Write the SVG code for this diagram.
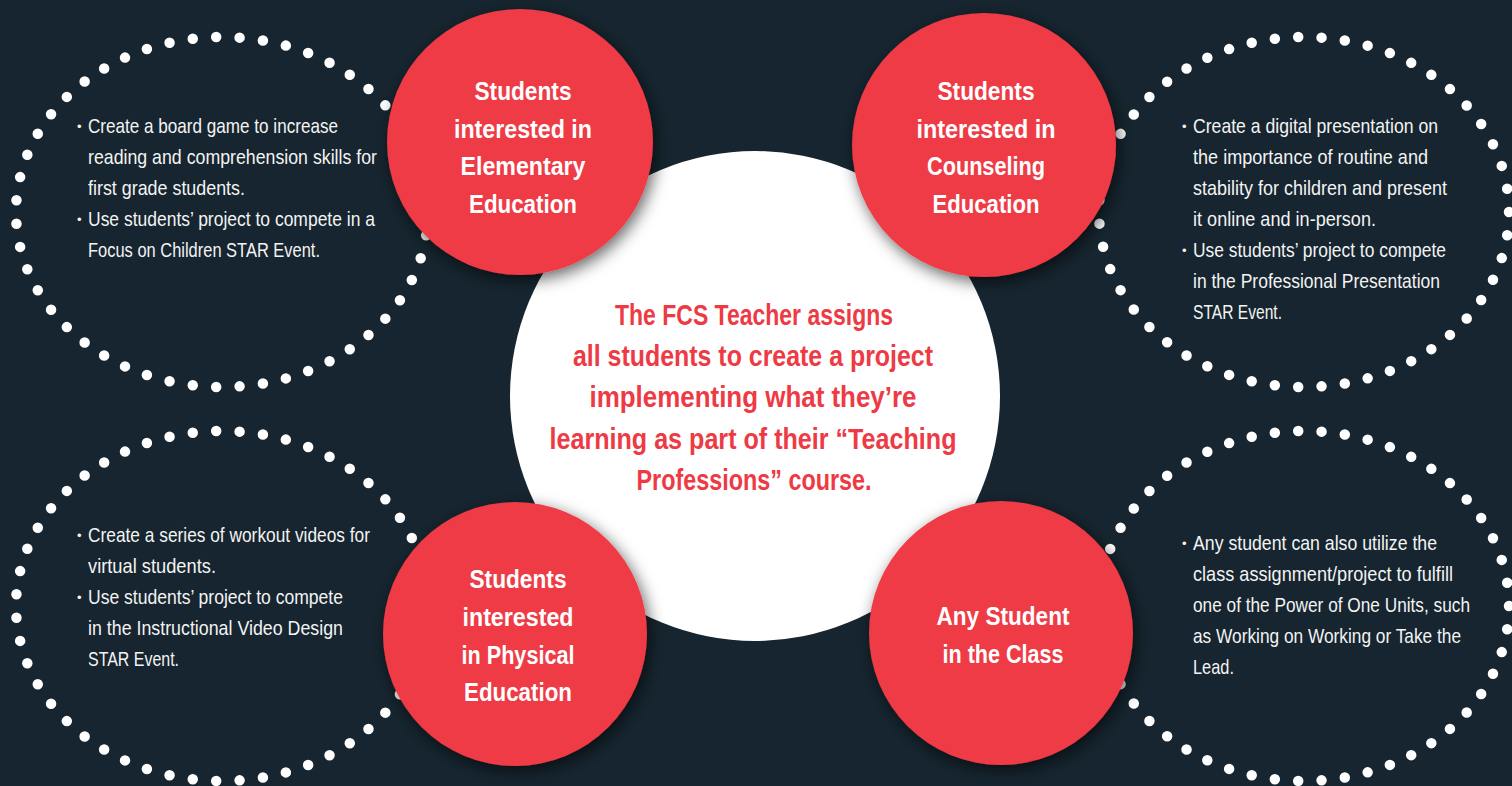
<svg xmlns="http://www.w3.org/2000/svg" width="1512" height="786" viewBox="0 0 1512 786">
<defs>
<style>
.bg{fill:#16252f}
.dots{fill:none;stroke:#ffffff;stroke-width:10.5;stroke-linecap:round;stroke-dasharray:0 1}
.red{fill:#ee3a44}
.hub{fill:#ffffff}
.body{font-family:"Liberation Sans Narrow","Liberation Sans",Arial,sans-serif;font-size:21px;fill:#f3f3f3}
.bul{font-family:"Liberation Sans",Arial,sans-serif;font-size:13px;fill:#f3f3f3}
.lbl{font-family:"Liberation Sans Narrow","Liberation Sans",Arial,sans-serif;font-size:25px;font-weight:bold;fill:#ffffff;text-anchor:middle}
.ctr{font-family:"Liberation Sans Narrow","Liberation Sans",Arial,sans-serif;font-size:30px;font-weight:bold;fill:#ee3a44;text-anchor:middle}
</style>
<filter id="sh" x="-30%" y="-30%" width="160%" height="160%">
<feGaussianBlur in="SourceAlpha" stdDeviation="8"/>
<feOffset dx="3" dy="5" result="b"/>
<feFlood flood-color="#000000" flood-opacity="0.6"/>
<feComposite in2="b" operator="in"/>
<feMerge><feMergeNode/><feMergeNode in="SourceGraphic"/></feMerge>
</filter>
</defs>
<rect class="bg" x="0" y="0" width="1512" height="786"/>

<g id="connectors">
<ellipse class="dots" cx="222" cy="212" rx="206" ry="175" pathLength="51"/>
<ellipse class="dots" cx="1304" cy="212" rx="205" ry="175" pathLength="51"/>
<ellipse class="dots" cx="222" cy="606" rx="206" ry="175" pathLength="51"/>
<ellipse class="dots" cx="1304" cy="606" rx="205" ry="175" pathLength="51"/>
</g>

<g id="hub">
<circle class="hub" cx="755" cy="396" r="245"/>
<text class="ctr" x="754" y="325" textLength="278" lengthAdjust="spacingAndGlyphs">The FCS Teacher assigns</text>
<text class="ctr" x="753" y="366" textLength="360" lengthAdjust="spacingAndGlyphs">all students to create a project</text>
<text class="ctr" x="753" y="407" textLength="327" lengthAdjust="spacingAndGlyphs">implementing what they’re</text>
<text class="ctr" x="753" y="449" textLength="407" lengthAdjust="spacingAndGlyphs">learning as part of their “Teaching</text>
<text class="ctr" x="754" y="490" textLength="235" lengthAdjust="spacingAndGlyphs">Professions” course.</text>
</g>

<g id="node-elementary">
<circle class="red" cx="520" cy="142" r="133" filter="url(#sh)"/>
<text class="lbl" x="523" y="100" textLength="97" lengthAdjust="spacingAndGlyphs">Students</text>
<text class="lbl" x="523" y="138" textLength="138" lengthAdjust="spacingAndGlyphs">interested in</text>
<text class="lbl" x="523" y="175" textLength="125" lengthAdjust="spacingAndGlyphs">Elementary</text>
<text class="lbl" x="523" y="213" textLength="108" lengthAdjust="spacingAndGlyphs">Education</text>
</g>

<g id="node-counseling">
<circle class="red" cx="984" cy="145" r="132" filter="url(#sh)"/>
<text class="lbl" x="986" y="100" textLength="97" lengthAdjust="spacingAndGlyphs">Students</text>
<text class="lbl" x="986" y="138" textLength="139" lengthAdjust="spacingAndGlyphs">interested in</text>
<text class="lbl" x="986" y="175" textLength="118" lengthAdjust="spacingAndGlyphs">Counseling</text>
<text class="lbl" x="986" y="213" textLength="107" lengthAdjust="spacingAndGlyphs">Education</text>
</g>

<g id="node-physical">
<circle class="red" cx="515" cy="634" r="132" filter="url(#sh)"/>
<text class="lbl" x="518" y="588" textLength="97" lengthAdjust="spacingAndGlyphs">Students</text>
<text class="lbl" x="518" y="626" textLength="111" lengthAdjust="spacingAndGlyphs">interested</text>
<text class="lbl" x="518" y="664" textLength="113" lengthAdjust="spacingAndGlyphs">in Physical</text>
<text class="lbl" x="518" y="701" textLength="108" lengthAdjust="spacingAndGlyphs">Education</text>
</g>

<g id="node-any">
<circle class="red" cx="1001" cy="633" r="132" filter="url(#sh)"/>
<text class="lbl" x="1003" y="625" textLength="133" lengthAdjust="spacingAndGlyphs">Any Student</text>
<text class="lbl" x="1003" y="663" textLength="121" lengthAdjust="spacingAndGlyphs">in the Class</text>
</g>

<g id="text-elementary">
<text class="bul" x="77" y="131">•</text>
<text class="body" x="88" y="133" textLength="250" lengthAdjust="spacingAndGlyphs">Create a board game to increase</text>
<text class="body" x="88" y="164" textLength="289" lengthAdjust="spacingAndGlyphs">reading and comprehension skills for</text>
<text class="body" x="88" y="195" textLength="157" lengthAdjust="spacingAndGlyphs">first grade students.</text>
<text class="bul" x="77" y="224">•</text>
<text class="body" x="88" y="226" textLength="287" lengthAdjust="spacingAndGlyphs">Use students’ project to compete in a</text>
<text class="body" x="88" y="257" textLength="232" lengthAdjust="spacingAndGlyphs">Focus on Children STAR Event.</text>
</g>

<g id="text-counseling">
<text class="bul" x="1182" y="131">•</text>
<text class="body" x="1193" y="133" textLength="245" lengthAdjust="spacingAndGlyphs">Create a digital presentation on</text>
<text class="body" x="1193" y="164" textLength="235" lengthAdjust="spacingAndGlyphs">the importance of routine and</text>
<text class="body" x="1193" y="195" textLength="254" lengthAdjust="spacingAndGlyphs">stability for children and present</text>
<text class="body" x="1193" y="226" textLength="183" lengthAdjust="spacingAndGlyphs">it online and in-person.</text>
<text class="bul" x="1182" y="255">•</text>
<text class="body" x="1193" y="257" textLength="253" lengthAdjust="spacingAndGlyphs">Use students’ project to compete</text>
<text class="body" x="1193" y="288" textLength="247" lengthAdjust="spacingAndGlyphs">in the Professional Presentation</text>
<text class="body" x="1193" y="319" textLength="89" lengthAdjust="spacingAndGlyphs">STAR Event.</text>
</g>

<g id="text-physical">
<text class="bul" x="77" y="540">•</text>
<text class="body" x="88" y="542" textLength="282" lengthAdjust="spacingAndGlyphs">Create a series of workout videos for</text>
<text class="body" x="88" y="573" textLength="128" lengthAdjust="spacingAndGlyphs">virtual students.</text>
<text class="bul" x="77" y="602">•</text>
<text class="body" x="88" y="604" textLength="255" lengthAdjust="spacingAndGlyphs">Use students’ project to compete</text>
<text class="body" x="88" y="635" textLength="255" lengthAdjust="spacingAndGlyphs">in the Instructional Video Design</text>
<text class="body" x="88" y="666" textLength="91" lengthAdjust="spacingAndGlyphs">STAR Event.</text>
</g>

<g id="text-any">
<text class="bul" x="1182" y="548">•</text>
<text class="body" x="1193" y="550" textLength="244" lengthAdjust="spacingAndGlyphs">Any student can also utilize the</text>
<text class="body" x="1193" y="581" textLength="260" lengthAdjust="spacingAndGlyphs">class assignment/project to fulfill</text>
<text class="body" x="1193" y="612" textLength="277" lengthAdjust="spacingAndGlyphs">one of the Power of One Units, such</text>
<text class="body" x="1193" y="643" textLength="268" lengthAdjust="spacingAndGlyphs">as Working on Working or Take the</text>
<text class="body" x="1193" y="674" textLength="41" lengthAdjust="spacingAndGlyphs">Lead.</text>
</g>
</svg>
